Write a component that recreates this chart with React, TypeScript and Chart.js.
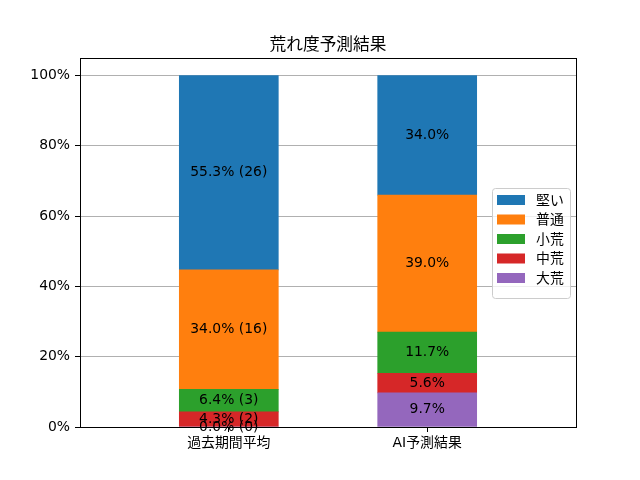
import { useEffect, useRef } from 'react'
import { Chart, registerables, type ChartConfiguration, type Plugin } from 'chart.js'

Chart.register(...registerables)

const FONT = '"DejaVu Sans", "Noto Sans CJK JP", sans-serif'

const title = '荒れ度予測結果'
const categories = ['過去期間平均', 'AI予測結果']
// bottom-to-top stacking order
const seriesNames = ['大荒', '中荒', '小荒', '普通', '堅い']
const seriesColors = ['#9467bd', '#d62728', '#2ca02c', '#ff7f0e', '#1f77b4']
const pastPercent = [0.0, 4.3, 6.4, 34.0, 55.3]
const pastCounts = [0, 2, 3, 16, 26]
const aiPercent = [9.7, 5.6, 11.7, 39.0, 34.0]
const yTicks = [0, 20, 40, 60, 80, 100]

const frame: Plugin<'bar'> = {
  id: 'frame',
  afterDatasetsDraw(chart) {
    const { ctx, chartArea: a } = chart
    ctx.save()

    // bar labels
    ctx.font = `13.9px ${FONT}`
    ctx.fillStyle = '#000'
    ctx.textAlign = 'center'
    ctx.textBaseline = 'middle'
    chart.data.datasets.forEach((ds, di) => {
      const meta = chart.getDatasetMeta(di)
      meta.data.forEach((el: any, i) => {
        const v = (ds.data[i] as any).y as number
        const yc = (el.y + el.base) / 2
        const label = i === 0 ? `${v.toFixed(1)}% (${pastCounts[di]})` : `${v.toFixed(1)}%`
        ctx.fillText(label, el.x, yc)
      })
    })

    // axes frame
    ctx.strokeStyle = '#000'
    ctx.lineWidth = 1
    ctx.strokeRect(Math.round(a.left) + 0.5, Math.round(a.top) + 0.5, Math.round(a.right - a.left), Math.round(a.bottom - a.top))

    // title
    ctx.font = `16.7px ${FONT}`
    ctx.textBaseline = 'alphabetic'
    ctx.fillText(title, (a.left + a.right) / 2, 50)

    // legend (top series first)
    const lx = 492, ly = 188, lw = 78, lh = 110
    ctx.fillStyle = 'rgba(255,255,255,0.8)'
    ctx.strokeStyle = '#cccccc'
    ctx.beginPath()
    ctx.roundRect(lx + 0.5, ly + 0.5, lw, lh, 3)
    ctx.fill()
    ctx.stroke()
    ctx.font = `13.9px ${FONT}`
    ctx.textAlign = 'left'
    ctx.textBaseline = 'middle'
    const items = chart.data.datasets.map((ds, i) => ({ label: ds.label as string, color: seriesColors[i] })).reverse()
    items.forEach((it, k) => {
      const cy = 200 + k * 19.5
      ctx.fillStyle = it.color
      ctx.fillRect(497, cy - 5, 28, 10)
      ctx.fillStyle = '#000'
      ctx.fillText(it.label, 536, cy + 1)
    })
    ctx.restore()
  },
}

export default function App() {
  const canvasRef = useRef<HTMLCanvasElement | null>(null)
  const chartRef = useRef<Chart | null>(null)

  useEffect(() => {
    if (!canvasRef.current) return

    const config: ChartConfiguration<'bar'> = {
      type: 'bar',
      data: {
        datasets: seriesNames.map((name, i) => ({
          label: name,
          data: [
            { x: 0, y: pastPercent[i] },
            { x: 1, y: aiPercent[i] },
          ],
          backgroundColor: seriesColors[i],
          borderWidth: 0,
          barThickness: 99,
        })) as any,
      },
      options: {
        animation: false,
        responsive: false,
        devicePixelRatio: 1,
        layout: { padding: { top: 58, right: 64, bottom: 0, left: 0 } },
        scales: {
          x: {
            type: 'linear',
            stacked: true,
            offset: false,
            min: -0.75,
            max: 1.75,
            grid: { offset: false, drawOnChartArea: false, drawTicks: true, tickLength: 5, tickColor: '#000' },
            border: { display: false },
            ticks: {
              color: '#000',
              padding: 3,
              font: { family: FONT, size: 13.9 },
              callback: (v) => categories[Number(v)] ?? '',
            },
            afterBuildTicks: (s) => {
              s.ticks = categories.map((_, i) => ({ value: i }))
            },
            afterFit: (s) => {
              s.height = 53
            },
          },
          y: {
            type: 'linear',
            stacked: true,
            min: 0,
            max: 105,
            grid: { color: '#b0b0b0', lineWidth: 1, tickLength: 5, tickColor: '#000' },
            border: { display: false },
            ticks: {
              color: '#000',
              padding: 5,
              font: { family: FONT, size: 13.9 },
              callback: (v) => `${v}%`,
            },
            afterBuildTicks: (s) => {
              s.ticks = yTicks.map((v) => ({ value: v }))
            },
            afterFit: (s) => {
              s.width = 80
            },
          },
        },
        plugins: {
          legend: { display: false },
          title: { display: false },
          tooltip: { enabled: false },
        },
      },
      plugins: [frame],
    }

    chartRef.current = new Chart(canvasRef.current, config)
    return () => chartRef.current?.destroy()
  }, [])

  return (
    <div style={{ position: 'fixed', left: 0, top: 0, width: 640, height: 480, background: '#fff' }}>
      <canvas ref={canvasRef} width={640} height={480} role="img" aria-label={title} />
    </div>
  )
}
